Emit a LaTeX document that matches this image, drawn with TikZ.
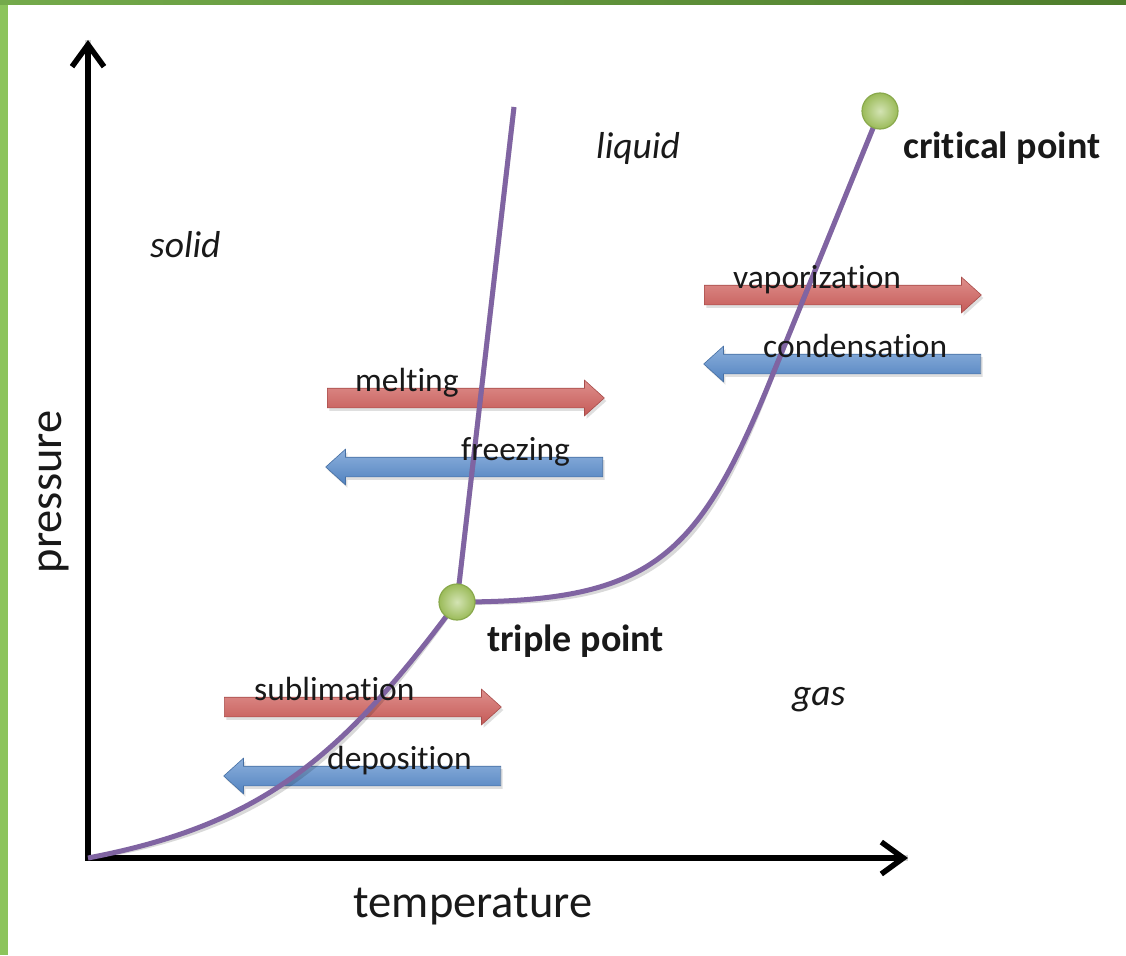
\documentclass[tikz,border=0pt]{standalone}
\usepackage{fontspec}
\setmainfont[Ligatures=NoCommon]{Carlito}
\usetikzlibrary{arrows.meta,shapes.arrows,shadows}

\definecolor{phaseline}{HTML}{8064A2}
\definecolor{heatred}{HTML}{C55A57}
\definecolor{heatredlt}{HTML}{DE8F8C}
\definecolor{coolblue}{HTML}{5283C0}
\definecolor{coolbluelt}{HTML}{8DB0DC}
\definecolor{dotgreen}{HTML}{9BBB59}
\definecolor{dotgreenlt}{HTML}{D3E3B3}
\definecolor{dotrim}{HTML}{89A94C}
\definecolor{frameleft}{HTML}{8CC45C}
\definecolor{frametopa}{HTML}{74AA4B}
\definecolor{frametopb}{HTML}{4E7D2C}

\tikzset{
  axis/.style={line width=5.5pt, line join=miter,
    {Straight Barb[length=22pt,width=32pt]}-{Straight Barb[length=22pt,width=32pt]}},
  axisshade/.style={line width=5.5pt, draw=black, opacity=.18},
  phase/.style={draw=phaseline, line width=5pt},
  phaseshade/.style={draw=black, opacity=.15, line width=5pt},
  dot/.style={circle, minimum size=36pt, inner sep=0pt, draw=dotrim, line width=1.2pt,
    inner color=dotgreenlt, outer color=dotgreen},
  fat/.style={single arrow, inner sep=0pt, inner ysep=9.5pt, minimum height=277pt,
    single arrow head extend=8pt, single arrow tip angle=84,
    drop shadow={shadow xshift=2pt, shadow yshift=-3pt, opacity=.25}},
  heat/.style={fat, draw=heatred!85!black, line width=.6pt, top color=heatredlt, bottom color=heatred},
  cool/.style={fat, shape border rotate=180, draw=coolblue!85!black, line width=.6pt,
    top color=coolbluelt, bottom color=coolblue},
  proc/.style={inner sep=0pt, anchor=base west, font=\fontsize{33.5}{40}\selectfont, text=black!90},
  region/.style={inner sep=0pt, anchor=base west, font=\fontsize{37.5}{44}\selectfont\itshape, text=black!90},
  special/.style={inner sep=0pt, anchor=base west, font=\fontsize{38}{46}\selectfont\bfseries, text=black!90},
  axislabel/.style={inner sep=0pt, anchor=base, font=\fontsize{46.5}{56}\selectfont, text=black!90}
}

\begin{document}
\begin{tikzpicture}[x=1pt,y=-1pt]
\useasboundingbox (0,0) rectangle (1126,955);
\fill[white] (0,0) rectangle (1126,955);

% green slide frame
\fill[frameleft] (0,0) rectangle (8,955);
\shade[left color=frametopa, right color=frametopb] (0,0) rectangle (1126,5);

% key points of the diagram
\coordinate (O) at (88,858);
\coordinate (Ptop) at (88,40);
\coordinate (Tend) at (908,858);
\coordinate (TP) at (457,602);
\coordinate (CP) at (880,111);
\coordinate (Mtop) at (514,107);
\coordinate (Vbend) at (770.5,380);

% process arrows
\node[heat, anchor=tail] (melt) at (327,398) {};
\node[cool, anchor=tail] (freeze) at (603,467) {};
\node[heat, anchor=tail] (vap) at (704,295) {};
\node[cool, anchor=tail] (cond) at (981,364) {};
\node[heat, anchor=tail] (subl) at (224,707) {};
\node[cool, anchor=tail] (depo) at (501,776) {};

% soft shadows of axes and phase boundaries
\begin{scope}[shift={(3,4)}]
  \draw[axisshade] (Ptop) -- (O) -- (Tend);
  \draw[phaseshade] (O) .. controls (260,825) and (340,760) .. (TP);
  \draw[phaseshade] (TP) -- (Mtop);
  \draw[phaseshade] (TP) .. controls (650,602) and (697,560) .. (Vbend) -- (CP);
\end{scope}

% axes
\draw[axis] (Ptop) -- (O) -- (Tend);

% phase boundaries
\draw[phase] (O) .. controls (260,825) and (340,760) .. (TP);
\draw[phase] (TP) -- (Mtop);
\draw[phase] (TP) .. controls (650,602) and (697,560) .. (Vbend) -- (CP);

% triple and critical points
\node[dot] (tp) at (TP) {};
\node[dot] (cp) at (CP) {};

% labels
\node[proc] (lmelt) at (355,391) {melting};
\node[proc] (lfreeze) at (461,460) {freezing};
\node[proc] (lvap) at (733,288) {vaporization};
\node[proc] (lcond) at (763,357) {condensation};
\node[proc] (lsubl) at (254,700) {sublimation};
\node[proc] (ldepo) at (327,769) {deposition};

\node[region] (solid) at (150,257) {solid};
\node[region] (liquid) at (596,158) {liquid};
\node[region] (gas) at (792,705) {gas};

\node[special] (lcp) at (903,158) {critical point};
\node[special] (ltp) at (487,651) {triple point};

\node[axislabel] (ltemp) at (473,917) {temperature};
\node[axislabel, rotate=90] (lpress) at (61,492) {pressure};
\end{tikzpicture}
\end{document}
